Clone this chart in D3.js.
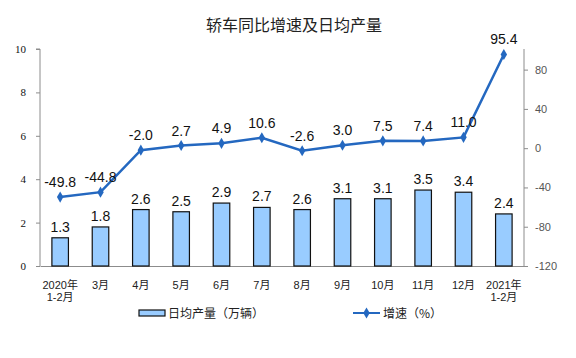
<!DOCTYPE html>
<html><head><meta charset="utf-8">
<script src="https://cdn.jsdelivr.net/npm/d3@7/dist/d3.min.js"></script>
<style>body{margin:0;background:#fff}svg{display:block}</style>
</head><body>
<svg id="c" width="576" height="358"></svg>
<script>
const categories = [["2020年","1-2月"],["3月"],["4月"],["5月"],["6月"],["7月"],["8月"],["9月"],["10月"],["11月"],["12月"],["2021年","1-2月"]];
const dailyOutput = [1.3,1.8,2.6,2.5,2.9,2.7,2.6,3.1,3.1,3.5,3.4,2.4];
const growth = [-49.8,-44.8,-2.0,2.7,4.9,10.6,-2.6,3.0,7.5,7.4,11.0,95.4];
const leftTicks = [0,2,4,6,8,10];
const rightTicks = [-120,-80,-40,0,40,80];
const title = "轿车同比增速及日均产量";
const legendBar = "日均产量（万辆）";
const legendLine = "增速（%）";

const svg = d3.select("#c");
const L = 40, R = 524, T = 49, B = 266;
const idx = categories.map((d,i)=>i);
const x = d3.scaleBand().domain(idx).range([L,R]).paddingInner(0.59).paddingOuter(0.295);
const xc = i => x(i) + x.bandwidth()/2;
const yL = d3.scaleLinear().domain([0,10]).range([B,T]);
const yR = d3.scaleLinear().domain([-120,101]).range([B,T]);
const lineColor = "#2468C0";
const axisColor = "#8c8c8c";
const f1 = d => d.toFixed(1);

svg.append("text").attr("x",294).attr("y",31).attr("text-anchor","middle")
  .style("font-family","'Noto Sans CJK SC'").style("font-size","16px").attr("fill","#222").text(title);

// left axis
const gL = svg.append("g").attr("transform",`translate(${L},0)`)
  .call(d3.axisLeft(yL).tickValues(leftTicks).tickSize(4).tickPadding(10).tickFormat(d=>String(d)));
gL.select(".domain").attr("stroke",axisColor).attr("d",`M-4,${T}H0V${B}`);
gL.selectAll(".tick line").attr("stroke",axisColor);
gL.selectAll(".tick text").style("font-family","'Liberation Serif'").style("font-size","11px").attr("fill","#111");

// right axis
const gR = svg.append("g").attr("transform",`translate(${R},0)`)
  .call(d3.axisRight(yR).tickValues(rightTicks).tickSize(4).tickPadding(7).tickFormat(d=>String(d)));
gR.select(".domain").attr("stroke",axisColor).attr("d",`M0,${T}V${B}`);
gR.selectAll(".tick line").attr("stroke",axisColor);
gR.selectAll(".tick text").style("font-family","'Liberation Sans'").style("font-size","11px").attr("fill","#555");

// bottom axis
const gB = svg.append("g").attr("transform",`translate(0,${B})`)
  .call(d3.axisBottom(x).tickSize(0).tickFormat(""));
gB.select(".domain").attr("stroke",axisColor);

// category labels
const cl = svg.append("g").selectAll("text").data(categories).join("text")
  .attr("text-anchor","middle").attr("x",(d,i)=>xc(i)).attr("y",289)
  .style("font-family","'Liberation Sans','Noto Sans CJK SC'").style("font-size","11px").attr("fill","#222");
cl.selectAll("tspan").data(d=>d).join("tspan").attr("x",function(){return d3.select(this.parentNode).attr("x");})
  .attr("dy",(d,i)=>i===0?0:12).text(d=>d);

// bars
svg.append("g").selectAll("rect").data(dailyOutput).join("rect")
  .attr("x",(d,i)=>x(i)).attr("width",x.bandwidth())
  .attr("y",d=>yL(d)).attr("height",d=>B-yL(d))
  .attr("fill","#99CCFF").attr("stroke","#111").attr("stroke-width",1.2);
svg.append("g").selectAll("text").data(dailyOutput).join("text")
  .attr("x",(d,i)=>xc(i)).attr("y",d=>yL(d)-6).attr("text-anchor","middle")
  .style("font-family","'Liberation Sans'").style("font-size","14px").attr("fill","#111")
  .text(f1);

// line
const line = d3.line().x((d,i)=>xc(i)).y(d=>yR(d));
svg.append("path").datum(growth).attr("d",line).attr("fill","none")
  .attr("stroke",lineColor).attr("stroke-width",2.5);
const diamond = d3.symbol().type(d3.symbolDiamond).size(36);
svg.append("g").selectAll("path").data(growth).join("path")
  .attr("d",diamond).attr("transform",(d,i)=>`translate(${xc(i)},${yR(d)})`).attr("fill",lineColor);
svg.append("g").selectAll("text").data(growth).join("text")
  .attr("x",(d,i)=>xc(i)).attr("y",d=>yR(d)-10).attr("text-anchor","middle")
  .style("font-family","'Liberation Sans'").style("font-size","14px").attr("fill","#111")
  .text(f1);

// legend
const lg = svg.append("g");
lg.append("rect").attr("x",139).attr("y",310).attr("width",26).attr("height",6)
  .attr("fill","#99CCFF").attr("stroke","#111").attr("stroke-width",1.2);
lg.append("text").attr("x",168).attr("y",318).text(legendBar)
  .style("font-family","'Noto Sans CJK SC'").style("font-size","12px").attr("fill","#222");
lg.append("line").attr("x1",353).attr("x2",380).attr("y1",313).attr("y2",313).attr("stroke",lineColor).attr("stroke-width",2);
lg.append("path").attr("d",diamond).attr("transform","translate(366.5,313)").attr("fill",lineColor);
lg.append("text").attr("x",383).attr("y",318).text(legendLine)
  .style("font-family","'Noto Sans CJK SC'").style("font-size","12px").attr("fill","#222");
</script>
</body></html>
